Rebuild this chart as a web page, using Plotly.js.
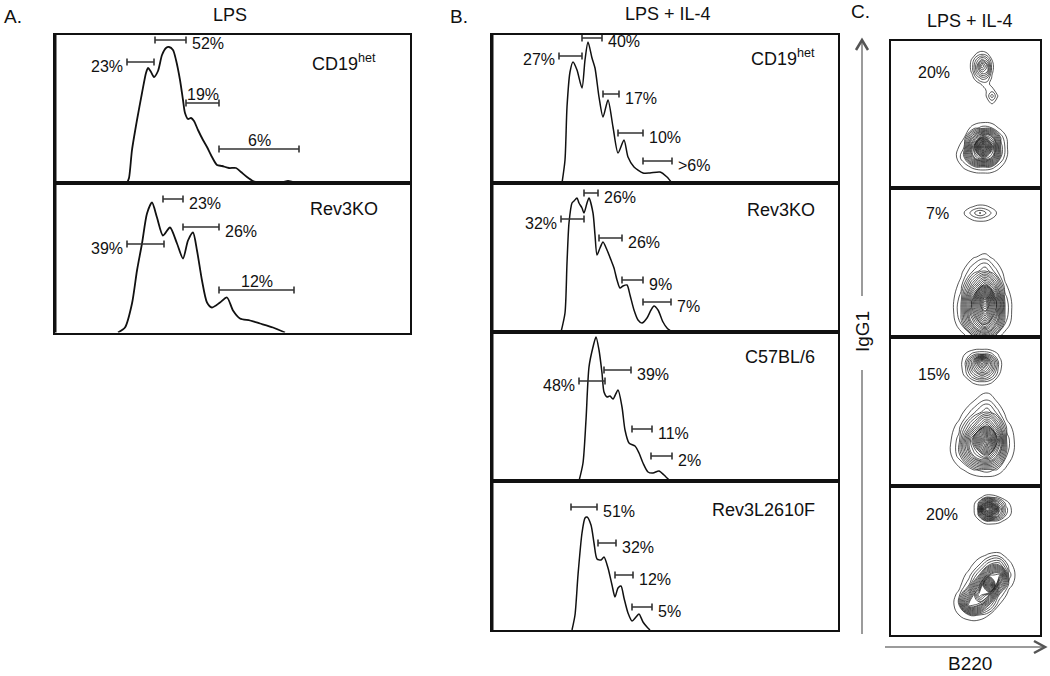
<!DOCTYPE html>
<html><head><meta charset="utf-8">
<script src="https://cdn.plot.ly/plotly-3.0.1.min.js"></script>
<style>html,body{margin:0;padding:0;background:#fff}#chart{width:1050px;height:676px}</style>
</head><body><div id="chart"></div>
<script>
// ---------- DATA (x = fluorescence channel, y = cell count, both in arbitrary units) ----------
const strainsA = ['CD19<sup>het</sup>', 'Rev3KO'];
const strainsB = ['CD19<sup>het</sup>', 'Rev3KO', 'C57BL/6', 'Rev3L2610F'];
const pctC = ['20%', '7%', '15%', '20%'];

// Panel A histograms
const histA1_x = [72,74,77,82,87,91,93,96,99,103,107,111,114,118,121,125,128,130,133,136,139,143,148,152,157,162,167,174,181,186,192,198,205,220,228,233,238,243];
const histA1_y = [0,5,33,63,90,110,115,111,106,112,128,135,136,133,123,103,83,70,64,65,62,53,43,36,26,18,17,15,15,11,6,2,0.5,0,1,2,1,0];
const histA2_x = [63,70,77,82,87,92,97,102,108,115,122,128,133,138,142,147,152,157,165,172,178,185,195,205,218,230];
const histA2_y = [0,5,29,62,89,119,130,115,97,105,89,74,92,100,82,52,30,25,30,35,22,14,12,9,5,0];

// Panel B histograms
const histB1_x = [70,73,75,78,81,85,90,93,96,100,103,107,111,116,121,126,132,136,142,151,158,168,175,180];
const histB1_y = [0,23,76,111,121,113,95,123,141,125,115,86,66,83,56,30,43,26,16,10,10,11,6,0];
const histB2_x = [69,73,75,77,80,82,85,87,90,92,95,97,101,103,105,108,111,115,119,122,125,128,131,135,138,142,146,150,155,159,162,166,171,175,180];
const histB2_y = [0,19,69,109,129,131,134,129,124,119,129,134,119,97,77,84,90,82,72,64,52,44,46,47,37,22,12,9,14,22,26,22,10,4,0];
const histB3_x = [87,91,94,97,101,104,107,110,112,115,118,121,126,130,133,137,143,147,151,156,161,167,172,178];
const histB3_y = [0,18,61,114,134,144,131,108,89,84,85,82,91,74,51,38,35,28,18,9,8,10,6,0];
const histB4_x = [80,83,86,90,93,95,99,102,105,109,112,116,120,123,126,129,132,136,140,144,147,151,155,158];
const histB4_y = [0,15,55,97,112,113,105,87,71,70,73,62,45,33,42,44,32,17,9,13,16,8,3,0];

// Gates (division markers): start, end, level, percentage
const gatesA1_lo = [100,72,131,164], gatesA1_hi = [131,99,164,244], gatesA1_lv = [143,121,80,34], gatesA1_txt = ['52%','23%','19%','6%'];
const gatesA2_lo = [108,128,72,164], gatesA2_hi = [128,164,109,239], gatesA2_lv = [133.5,105.5,88.5,42.5], gatesA2_txt = ['23%','26%','39%','12%'];
const gatesB1_lo = [90,67,111,126,151], gatesB1_hi = [110,90,127,151,180], gatesB1_lv = [145,127,89,50,22], gatesB1_txt = ['40%','27%','17%','10%','>6%'];
const gatesB2_lo = [92,69,107,130,151], gatesB2_hi = [106,92,130,151,179], gatesB2_lv = [139,113,94,52,30], gatesB2_txt = ['26%','32%','26%','9%','7%'];
const gatesB3_lo = [112,87,140,159], gatesB3_hi = [139,113,160,180], gatesB3_lv = [111,100,52,25], gatesB3_txt = ['39%','48%','11%','2%'];
const gatesB4_lo = [79,106,123,140], gatesB4_hi = [105,124,141,160], gatesB4_lv = [123,87,55,23], gatesB4_txt = ['51%','32%','12%','5%'];

// Panel C density grids (B220 x, IgG1 y)
const contC1a_x = [76,81,86,91,96,101,106,111], contC1a_y = [80,86,92,98,104,110,116,122,128,134,140];
const contC1a_z = [
  [0,0,0,0,0,0,0,0],
  [0,0,0,0,0.6,1.4,0.6,0],
  [0,0,0,0,1.2,3.6,1.2,0],
  [0,0,0,0.3,1.2,1.4,0.5,0],
  [0,0,0.3,1.2,1.4,0.6,0,0],
  [0,0.4,2.2,3.5,3.0,0.8,0,0],
  [0,1.2,4.5,7,6,1.2,0,0],
  [0,1.5,5,10,7,1.4,0,0],
  [0,1.2,3.5,5.5,4,1.0,0,0],
  [0,0.3,1.2,1.8,1.2,0.3,0,0],
  [0,0,0,0,0,0,0,0]];
const contC1c_x = [64,73,83,92,101,110,119], contC1c_y = [12,21,31,41,51,60,69];
const contC1c_z = [[0,0,0,0,0,0,0],[0,1.2,2.5,3,2.5,1,0],[0.6,3,12,16,13,3,0],[0.3,2,14,30,16,3.5,0],[0,0.8,8,14,11,2.5,0],[0,0.2,1.6,2.5,2,0.6,0],[0,0,0,0,0,0,0]];

const contC2a_x = [67,78,89,100,111], contC2a_y = [112,118,124,130,136];
const contC2a_z = [[0,0,0,0,0],[0,0.9,1.6,1.0,0],[0,1.8,4.2,2.0,0],[0,0.8,1.5,0.9,0],[0,0,0,0,0]];
const contC2b_x = [60,70,82,94,104,114,124], contC2b_y = [-15,0,13,26,39,52,66,80,90];
const contC2b_z = [[0,0,1.5,3,1.5,0,0],[0,0.2,2,5,2,0.2,0],[0,2,10,16,10,2,0],[0.3,3,14,24,15,3,0],[0.3,2.5,14,30,15,2.5,0],[0,1.5,8,14,8,1.2,0],[0,0.6,3,5,2.5,0.4,0],[0,0,0.8,1.5,0.5,0,0],[0,0,0,0,0,0,0]];

const contC3a_x = [66,74,83,91,99,108,116], contC3a_y = [97,104,111,118,125,132,139];
const contC3a_z = [[0,0,0,0,0,0,0],[0,0.3,1.3,1.8,1.3,0.3,0],[0,1.2,4.5,6.5,4.5,1.0,0],[0,1.6,7,11,7.5,1.4,0],[0,1.6,7.5,16,8,1.4,0],[0,1.0,2.5,3,2.5,0.8,0],[0,0,0,0,0,0,0]];
const contC3b_x = [56,68,82,96,106,116,128], contC3b_y = [5,16,31,46,60,74,86,100];
const contC3b_z = [[0,0,0,0,0,0,0],[0,0.6,1.8,2.5,1.8,0.6,0],[0.2,2.5,11,15,10,2,0],[0.2,2.5,14,28,15,2.5,0],[0,1.5,7,13,8,1.5,0],[0,0.3,2.5,5,2.5,0.3,0],[0,0,0.8,2,0.8,0,0],[0,0,0,0,0,0,0]];

const contC4a_x = [80,87,94,101,108,115,124], contC4a_y = [108,114,120,126,132,138,144];
const contC4a_z = [[0,0,0,0,0,0,0],[0,0.6,1.8,2,1.5,0.6,0],[0,1.8,10,11,6,2,0],[0,2.2,18,20,8,2.4,0],[0,1.8,9,10,5,1.5,0],[0,0.4,1.4,1.5,1,0.3,0],[0,0,0,0,0,0,0]];
const contC4b_x = [58,68,78,88,98,108,118,128], contC4b_y = [10,20,30,40,50,60,70,80,88];
const contC4b_z = [[0,0,0,0,0,0,0,0],[0,1,2,2,1,0.3,0,0],[0,2,14,12,5,1,0,0],[0,1.5,9,18,14,3,0.3,0],[0,0.5,3,12,26,10,1.5,0],[0,0.2,1.5,5,14,16,2.5,0],[0,0,0.5,2,5,6,1.5,0],[0,0,0,0.5,1.2,1.4,0.4,0],[0,0,0,0,0,0,0,0]];

// ---------- LAYOUT / DRAWING ----------
const W = 1050, H = 676;
const px = x => x / W, py = y => 1 - y / H;
const FONT = '"Liberation Sans", Arial, Helvetica, sans-serif';
const INK = '#111';
const BR = 838; // right edge of panel B boxes

const hists = [
  {box:[55,410,35,183],  hx:histA1_x, hy:histA1_y, lo:gatesA1_lo, hi:gatesA1_hi, lv:gatesA1_lv, tx:gatesA1_txt, side:['r','l','t','t'], name:strainsA[0], lab:[310,62,'left'], lw:1.8},
  {box:[55,410,183,332.5], hx:histA2_x, hy:histA2_y, lo:gatesA2_lo, hi:gatesA2_hi, lv:gatesA2_lv, tx:gatesA2_txt, side:['r','r','l','t'], name:strainsA[1], lab:[308,209,'left'], lw:1.8},
  {box:[492,BR,35,183], hx:histB1_x, hy:histB1_y, lo:gatesB1_lo, hi:gatesB1_hi, lv:gatesB1_lv, tx:gatesB1_txt, side:['r','l','r','r','r'], name:strainsB[0], lab:[817,57,'right'], lw:1.5},
  {box:[492,BR,183,332], hx:histB2_x, hy:histB2_y, lo:gatesB2_lo, hi:gatesB2_hi, lv:gatesB2_lv, tx:gatesB2_txt, side:['r','l','r','r','r'], name:strainsB[1], lab:[817,210,'right'], lw:1.5},
  {box:[492,BR,332,481], hx:histB3_x, hy:histB3_y, lo:gatesB3_lo, hi:gatesB3_hi, lv:gatesB3_lv, tx:gatesB3_txt, side:['r','l','r','r'], name:strainsB[2], lab:[817,357,'right'], lw:1.5},
  {box:[492,BR,481,630], hx:histB4_x, hy:histB4_y, lo:gatesB4_lo, hi:gatesB4_hi, lv:gatesB4_lv, tx:gatesB4_txt, side:['r','r','r','r'], name:strainsB[3], lab:[817,510,'right'], lw:1.5}
];
const dots = [
  {box:[891,1040,41,188],  grids:[[contC1a_x,contC1a_y,contC1a_z],[contC1c_x,contC1c_y,contC1c_z]], lab:[934,73]},
  {box:[891,1040,188,337], grids:[[contC2a_x,contC2a_y,contC2a_z],[contC2b_x,contC2b_y,contC2b_z]], lab:[937,213]},
  {box:[891,1040,337,486], grids:[[contC3a_x,contC3a_y,contC3a_z],[contC3b_x,contC3b_y,contC3b_z]], lab:[934,374]},
  {box:[891,1040,486,635], grids:[[contC4a_x,contC4a_y,contC4a_z],[contC4b_x,contC4b_y,contC4b_z]], lab:[942,514]}
];

const traces = [], annotations = [], shapes = [];
const layout = {
  width: W, height: H, margin: {l:0, r:0, t:0, b:0},
  paper_bgcolor: '#fff', plot_bgcolor: 'rgba(0,0,0,0)', showlegend: false,
  font: {family: FONT, color: INK}
};
let n = 0;
function addAxes(box, thickLeft) {
  n++;
  const sx = n === 1 ? '' : String(n);
  const [l, r, t, b] = box;
  const common = {showgrid:false, zeroline:false, showticklabels:false, ticks:'', showline:true, mirror:true, linecolor:INK, linewidth:2, fixedrange:true};
  layout['xaxis' + sx] = Object.assign({}, common, {domain:[px(l), px(r)], range:[0, r - l], anchor:'y' + sx});
  layout['yaxis' + sx] = Object.assign({}, common, {domain:[py(b), py(t)], range:[0, b - t], anchor:'x' + sx});
  if (thickLeft) shapes.push({type:'line', xref:'paper', yref:'paper', x0:px(l), x1:px(l), y0:py(b), y1:py(t), line:{color:INK, width:3}});
  return ['x' + sx, 'y' + sx];
}

hists.forEach(h => {
  const [xa, ya] = addAxes(h.box, true);
  traces.push({type:'scatter', mode:'lines', x:h.hx, y:h.hy, xaxis:xa, yaxis:ya, line:{color:INK, width:h.lw, shape:'spline', smoothing:0.7}, hoverinfo:'skip'});
  const mid = h.lo.map((v, i) => (v + h.hi[i]) / 2);
  const half = h.lo.map((v, i) => (h.hi[i] - v) / 2);
  traces.push({type:'scatter', mode:'markers', x:mid, y:h.lv, xaxis:xa, yaxis:ya, marker:{size:1, color:'rgba(0,0,0,0)'},
    error_x:{type:'data', array:half, visible:true, color:'#333', thickness:1.6, width:3.5}, hoverinfo:'skip'});
  h.tx.forEach((t, i) => {
    const s = h.side[i];
    const a = {text:t, xref:xa, yref:ya, y:h.lv[i], showarrow:false, font:{size:16, family:FONT, color:INK}};
    if (s === 'r') Object.assign(a, {x:h.hi[i], xanchor:'left', yanchor:'middle', xshift:4, yshift:-4});
    else if (s === 'l') Object.assign(a, {x:h.lo[i], xanchor:'right', yanchor:'middle', xshift:-2, yshift:-4});
    else Object.assign(a, {x:mid[i], xanchor:'center', yanchor:'bottom', yshift:-2});
    annotations.push(a);
  });
  annotations.push({text:h.name, xref:'paper', yref:'paper', x:px(h.lab[0]), y:py(h.lab[1]), xanchor:h.lab[2], yanchor:'middle', showarrow:false, font:{size:18, family:FONT, color:INK}});
});

dots.forEach((d, k) => {
  const [xa, ya] = addAxes(d.box, false);
  d.grids.forEach(g => {
    traces.push({type:'contour', x:g[0], y:g[1], z:g[2], xaxis:xa, yaxis:ya, showscale:false, hoverinfo:'skip',
      contours:{coloring:'none', start:1, end:40, size:1}, line:{color:'#111', width:0.7, smoothing:1.3}});
  });
  annotations.push({text:pctC[k], xref:'paper', yref:'paper', x:px(d.lab[0]), y:py(d.lab[1]), xanchor:'center', yanchor:'middle', showarrow:false, font:{size:16, family:FONT, color:INK}});
});

// Panel letters and titles
const titles = [
  ['A.', 2, 16, 'left', 19], ['LPS', 230, 15, 'center', 18],
  ['B.', 448, 16, 'left', 19], ['LPS + IL-4', 668, 14, 'center', 18],
  ['C.', 849, 11, 'left', 19], ['LPS + IL-4', 970, 21, 'center', 18],
  ['B220', 970, 663, 'center', 19]
];
titles.forEach(t => annotations.push({text:t[0], xref:'paper', yref:'paper', x:px(t[1]), y:py(t[2]), xanchor:t[3], yanchor:'middle', showarrow:false, font:{size:t[4], family:FONT, color:INK}}));
annotations.push({text:'IgG1', xref:'paper', yref:'paper', x:px(862), y:py(332), xanchor:'center', yanchor:'middle', textangle:-90, showarrow:false, font:{size:19, family:FONT, color:INK}});

// Axis arrows of panel C
const AR = '#7a7a7a';
shapes.push({type:'line', xref:'paper', yref:'paper', x0:px(862), x1:px(862), y0:py(634), y1:py(370), line:{color:AR, width:1.5}});
shapes.push({type:'line', xref:'paper', yref:'paper', x0:px(862), x1:px(862), y0:py(296), y1:py(41), line:{color:AR, width:1.5}});
shapes.push({type:'path', xref:'paper', yref:'paper', path:`M ${px(856)} ${py(50)} L ${px(862)} ${py(40)} L ${px(868)} ${py(50)}`, line:{color:'#555', width:2.5}});
shapes.push({type:'line', xref:'paper', yref:'paper', x0:px(885), x1:px(1044), y0:py(647), y1:py(647), line:{color:AR, width:1.5}});
shapes.push({type:'path', xref:'paper', yref:'paper', path:`M ${px(1034)} ${py(641)} L ${px(1045)} ${py(647)} L ${px(1034)} ${py(653)}`, line:{color:'#555', width:2.5}});

layout.annotations = annotations;
layout.shapes = shapes;
Plotly.newPlot('chart', traces, layout, {staticPlot:true, displayModeBar:false});
</script></body></html>
